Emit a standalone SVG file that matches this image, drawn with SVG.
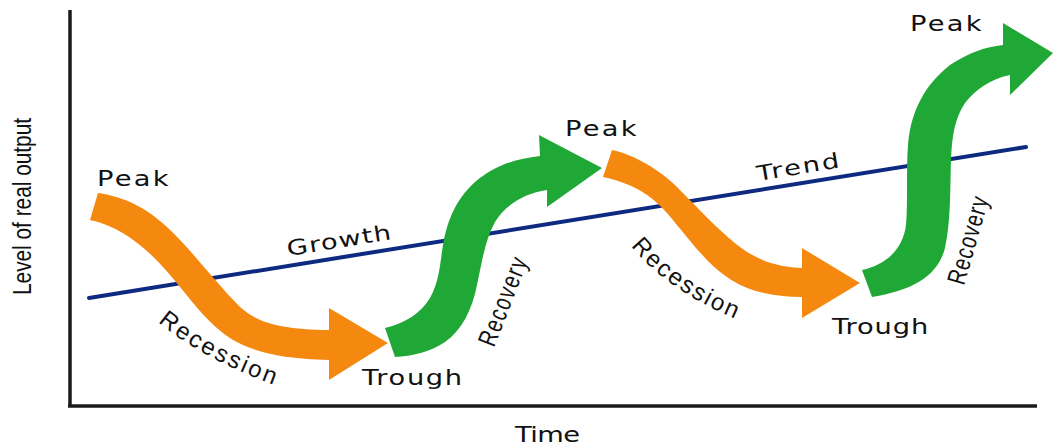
<svg xmlns="http://www.w3.org/2000/svg" width="1054" height="448" viewBox="0 0 1054 448">
  <defs>
    <style>
      .axis { stroke: #1a1a1a; stroke-width: 3.5; fill: none; }
      .trend { stroke: #0d2a80; stroke-width: 4; stroke-linecap: round; fill: none; }
      .orange { fill: #f5890f; }
      .green { fill: #20a836; }
      .lbl { font-family: "DejaVu Sans", "Liberation Sans", sans-serif; font-size: 21px; fill: #111; }
      .rot { font-family: "Liberation Sans", Arial, sans-serif; font-size: 24px; fill: #111; }
      .cond { font-family: "Liberation Sans", Arial, sans-serif; fill: #111; }
    </style>
    <path id="recPath1" d="M158,322 Q 203,360 285,389"/>
    <path id="recPath2" d="M631,246 Q 668,292 745,323"/>
  </defs>

  <rect width="1054" height="448" fill="#ffffff"/>

  <g id="axes">
    <line class="axis" x1="70" y1="10" x2="70" y2="407"/>
    <line class="axis" x1="68" y1="406" x2="1037" y2="406"/>
    <text class="cond" font-size="26" text-anchor="middle" textLength="177" lengthAdjust="spacingAndGlyphs" transform="translate(31,206.5) rotate(-90)">Level of real output</text>
    <text class="lbl" textLength="50" lengthAdjust="spacing" transform="translate(515,442) scale(1.3,1)">Time</text>
  </g>

  <g id="connectors">
    <line class="trend" x1="89" y1="298" x2="1026" y2="147"/>
    <text class="lbl" textLength="81" lengthAdjust="spacing" transform="translate(288,256) rotate(-9.2) scale(1.3,1)">Growth</text>
    <text class="lbl" textLength="64" lengthAdjust="spacing" transform="translate(758,181) rotate(-9.5) scale(1.3,1)">Trend</text>
  </g>

  <g id="recession1">
    <path class="orange" d="M98,193 C 125,197 145,207 167,227 C 190,248 215,282 240,307 C 258,323 280,329 329,330 L329,308 L388,343 L329,380 L329,360 C 280,359 255,352 233,340 C 210,326 195,305 180,287 C 160,262 130,228 90,220 Z"/>
    <text class="rot" letter-spacing="2.5"><textPath href="#recPath1">Recession</textPath></text>
    <text class="lbl" textLength="55" lengthAdjust="spacing" transform="translate(97,186) scale(1.3,1)">Peak</text>
  </g>

  <g id="recovery1">
    <path class="green" d="M385,328 C 405,323 420,314 430,298 C 440,280 440,262 443,245 C 447,222 455,200 475,182 C 495,165 515,159 540,156 L539,135 L602,168 L547,207 L547,190 C 525,193 505,205 495,222 C 485,240 482,262 477,285 C 472,310 462,330 445,342 C 430,352 412,356 395,357 Z"/>
    <text class="cond" font-size="26" textLength="124" lengthAdjust="spacing" transform="translate(494,348) rotate(-68.7) scale(0.75,1)">Recovery</text>
    <text class="lbl" textLength="77" lengthAdjust="spacing" transform="translate(362,385) scale(1.3,1)">Trough</text>
  </g>

  <g id="recession2">
    <path class="orange" d="M612,150 C 635,155 660,170 677,187 C 695,205 720,232 740,247 C 760,262 780,267 802,268 L802,248 L860,283 L802,318 L802,297 C 770,297 745,290 727,277 C 705,262 690,240 667,213 C 655,200 640,185 603,177 Z"/>
    <text class="rot" letter-spacing="2"><textPath href="#recPath2">Recession</textPath></text>
    <text class="lbl" textLength="55" lengthAdjust="spacing" transform="translate(565,136) scale(1.3,1)">Peak</text>
  </g>

  <g id="recovery2">
    <path class="green" d="M862,270 C 885,265 903,250 906,225 C 908,200 906,170 908,145 C 911,110 925,85 950,65 C 970,52 985,47 1003,45 L1003,23 L1053,53 L1010,95 L1010,75 C 990,79 975,90 965,103 C 955,118 952,135 951,160 C 950,190 951,220 945,248 C 938,275 915,290 872,297 Z"/>
    <text class="cond" font-size="26" textLength="120" lengthAdjust="spacing" transform="translate(964,286) rotate(-74) scale(0.75,1)">Recovery</text>
    <text class="lbl" textLength="74" lengthAdjust="spacing" transform="translate(832,334) scale(1.3,1)">Trough</text>
    <text class="lbl" textLength="55" lengthAdjust="spacing" transform="translate(910,31) scale(1.3,1)">Peak</text>
  </g>
</svg>
